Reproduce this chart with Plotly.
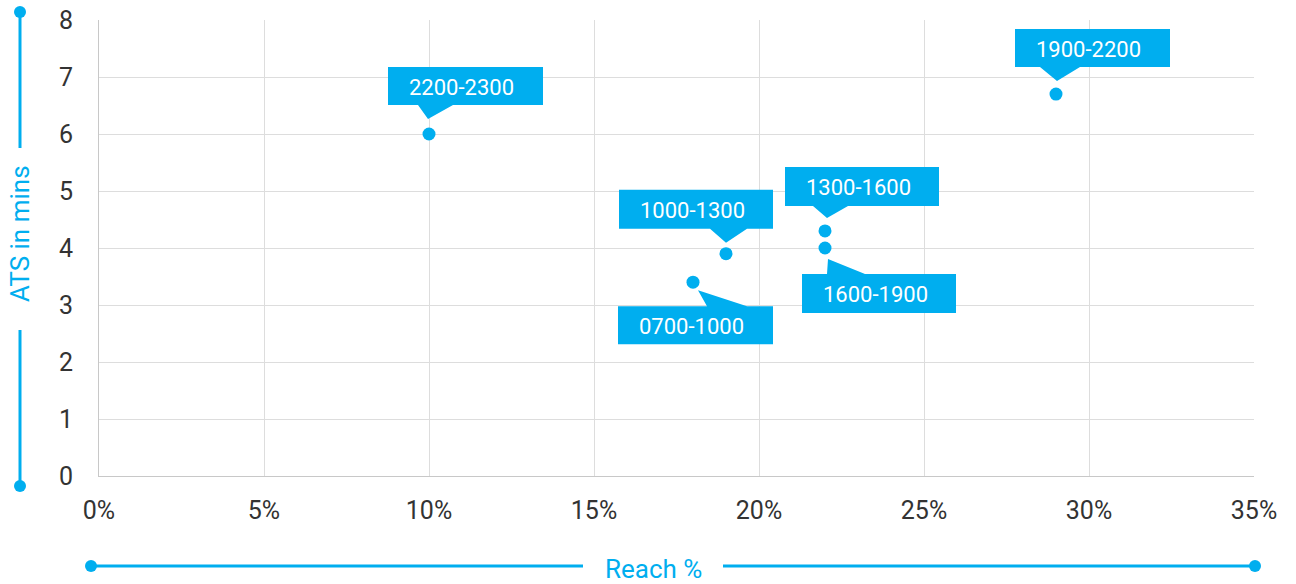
import plotly.graph_objects as go

# ---- data ----
slots = ["0700-1000", "1000-1300", "1300-1600", "1600-1900", "1900-2200", "2200-2300"]
reach_pct = [18, 19, 22, 22, 29, 10]
ats_mins = [3.4, 3.9, 4.3, 4.0, 6.7, 6.0]

x_ticks = [0, 5, 10, 15, 20, 25, 30, 35]
y_ticks = [0, 1, 2, 3, 4, 5, 6, 7, 8]

BLUE = "#00AEEF"
FONT = "Roboto"

# callout geometry per label, screen pixels relative to the point (left, top, right, bottom), pointer (b1, tip, b2)
callouts = {
    "0700-1000": dict(box=(-75, 24, 80, 62), ptr=((14, 24), (5, 8), (54, 24))),
    "1000-1300": dict(box=(-107, -64, 47, -25), ptr=((-16, -25), (0, -11), (21, -25))),
    "1300-1600": dict(box=(-40, -64, 114, -25), ptr=((-12, -25), (2, -13), (23, -25))),
    "1600-1900": dict(box=(-23, 26, 131, 65), ptr=((2, 26), (3, 11), (40, 26))),
    "1900-2200": dict(box=(-41, -65, 114, -27), ptr=((-16, -27), (1, -13), (24, -27))),
    "2200-2300": dict(box=(-41, -67, 114, -29), ptr=((-11, -29), (-1, -15), (24, -29))),
}

fig = go.Figure()
fig.add_trace(go.Scatter(
    x=reach_pct, y=ats_mins, mode="markers",
    marker=dict(size=13, color=BLUE),
    hoverinfo="skip", showlegend=False, cliponaxis=False,
))

shapes = []
annotations = []
for name, xv, yv in zip(slots, reach_pct, ats_mins):
    c = callouts[name]
    l, t, r, b = c["box"]
    p1, tip, p2 = c["ptr"]
    P = lambda px, py: f"{px},{-py}"
    path = (f"M{P(l,t)} L{P(r,t)} L{P(r,b)} L{P(l,b)} Z "
            f"M{P(*p1)} L{P(*tip)} L{P(*p2)} Z")
    shapes.append(dict(type="path", xref="x", yref="y", xsizemode="pixel", ysizemode="pixel",
                       xanchor=xv, yanchor=yv, path=path, fillcolor=BLUE,
                       line=dict(width=0), layer="above"))
    annotations.append(dict(x=xv, y=yv, xref="x", yref="y", text=name, showarrow=False,
                            xanchor="left", yanchor="middle", xshift=l + 19,
                            yshift=-(t + b) / 2 - 1,
                            font=dict(family=FONT, size=22, color="white")))

# axis decorations (pixel -> paper)
L, T, W, H = 99, 20, 1155, 456
px = lambda v: (v - L) / W
py = lambda v: (T + H - v) / H

def seg(x0, y0, x1, y1):
    return dict(type="line", xref="paper", yref="paper", x0=px(x0), y0=py(y0), x1=px(x1), y1=py(y1),
                line=dict(color=BLUE, width=3), layer="above")

def dot(x0, y0):
    return dict(type="circle", xref="paper", yref="paper", x0=px(x0 - 6), y0=py(y0 + 6),
                x1=px(x0 + 6), y1=py(y0 - 6), fillcolor=BLUE, line=dict(width=0), layer="above")

shapes += [seg(20, 12, 20, 148), seg(20, 330, 20, 486), dot(20, 12), dot(20, 486),
           seg(91, 566, 583, 566), seg(723, 566, 1255, 566), dot(91, 566), dot(1255, 566)]

annotations.append(dict(x=px(20), y=py(234), xref="paper", yref="paper", text="ATS in mins",
                        textangle=-90, showarrow=False, xanchor="center", yanchor="middle",
                        font=dict(family=FONT, size=26, color=BLUE)))
annotations.append(dict(x=px(653), y=py(569), xref="paper", yref="paper", text="Reach %",
                        showarrow=False, xanchor="center", yanchor="middle",
                        font=dict(family=FONT, size=26, color=BLUE)))

fig.update_layout(
    width=1296, height=584,
    margin=dict(l=L, r=1296 - L - W, t=T, b=584 - T - H, autoexpand=False),
    paper_bgcolor="white", plot_bgcolor="white",
    shapes=shapes, annotations=annotations,
    font=dict(family=FONT, size=25, color="#333333"),
    xaxis=dict(range=[0, 35], tickvals=x_ticks, ticktext=[f"{v}%" for v in x_ticks],
               showgrid=True, gridcolor="#dddddd", gridwidth=1,
               showline=True, linecolor="#c8c8c8", linewidth=1, automargin=False,
               zeroline=False, ticks="", ticklabelstandoff=12,
               tickfont=dict(family=FONT, size=25, color="#333333"), fixedrange=True),
    yaxis=dict(range=[0, 8], tickvals=y_ticks, automargin=False,
               showgrid=True, gridcolor="#dddddd", gridwidth=1,
               showline=True, linecolor="#c8c8c8", linewidth=1,
               zeroline=False, ticks="", ticklabelstandoff=20,
               tickfont=dict(family=FONT, size=25, color="#333333"), fixedrange=True),
)

fig.write_html("out.html", config={"displayModeBar": False})
